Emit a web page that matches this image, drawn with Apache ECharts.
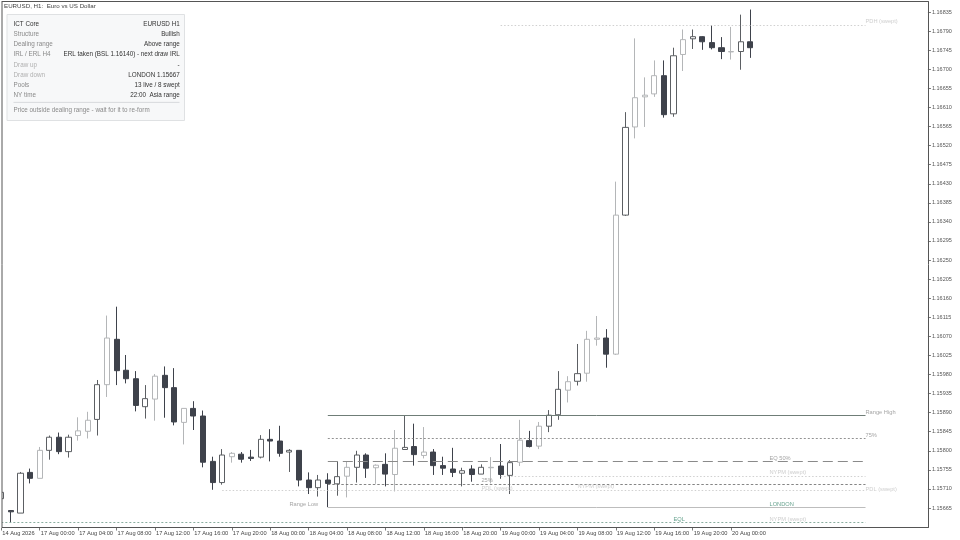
<!DOCTYPE html>
<html>
<head>
<meta charset="utf-8">
<title>EURUSD H1</title>
<script src="https://cdn.jsdelivr.net/npm/echarts@6/dist/echarts.min.js"></script>
<style>
  html, body { margin: 0; padding: 0; background: #fff; }
  #chart { width: 960px; height: 540px; }
</style>
</head>
<body>
<div id="chart"></div>
<script>
// candles, oldest first (prices)
const opens = [
  1.15687, 1.15659, 1.15653, 1.15749, 1.15735, 1.15801, 1.15832, 1.15798, 1.15836, 1.15846,
  1.15874, 1.15956, 1.16063, 1.15990, 1.15970, 1.15904, 1.15922, 1.15978, 1.15949, 1.15867,
  1.15900, 1.15882, 1.15775, 1.15725, 1.15786, 1.15792, 1.15785, 1.15785, 1.15827, 1.15823,
  1.15797, 1.15801, 1.15731, 1.15713, 1.15731, 1.15722, 1.15740, 1.15761, 1.15790, 1.15760,
  1.15768, 1.15744, 1.15803, 1.15810, 1.15789, 1.15797, 1.15765, 1.15757, 1.15747, 1.15757,
  1.15745, 1.15760, 1.15764, 1.15742, 1.15773, 1.15824, 1.15811, 1.15858, 1.15885, 1.15943,
  1.15964, 1.15983, 1.16063, 1.16066, 1.16028, 1.16356, 1.16564, 1.16635, 1.16642, 1.16685,
  1.16595, 1.16735, 1.16772, 1.16777, 1.16763, 1.16751, 1.16741, 1.16742, 1.16765
];
const closes = [
  1.15702, 1.15656, 1.15747, 1.15735, 1.15801, 1.15832, 1.15798, 1.15832, 1.15847, 1.15872,
  1.15956, 1.16066, 1.15989, 1.15970, 1.15907, 1.15923, 1.15976, 1.15949, 1.15868, 1.15900,
  1.15882, 1.15773, 1.15725, 1.15790, 1.15794, 1.15780, 1.15782, 1.15827, 1.15823, 1.15794,
  1.15801, 1.15731, 1.15713, 1.15731, 1.15723, 1.15739, 1.15761, 1.15790, 1.15759, 1.15766,
  1.15745, 1.15806, 1.15808, 1.15791, 1.15797, 1.15765, 1.15759, 1.15749, 1.15753, 1.15744,
  1.15761, 1.15761, 1.15744, 1.15772, 1.15825, 1.15810, 1.15858, 1.15884, 1.15945, 1.15963,
  1.15982, 1.16063, 1.16066, 1.16028, 1.16356, 1.16563, 1.16633, 1.16639, 1.16685, 1.16593,
  1.16732, 1.16770, 1.16777, 1.16765, 1.16751, 1.16742, 1.16742, 1.16765, 1.16751
];
const lows = [
  1.15687, 1.15632, 1.15653, 1.15723, 1.15735, 1.15779, 1.15792, 1.15784, 1.15824, 1.15829,
  1.15836, 1.15927, 1.15955, 1.15959, 1.15893, 1.15876, 1.15871, 1.15878, 1.15860, 1.15815,
  1.15849, 1.15761, 1.15708, 1.15720, 1.15772, 1.15772, 1.15776, 1.15782, 1.15775, 1.15786,
  1.15750, 1.15716, 1.15698, 1.15692, 1.15667, 1.15694, 1.15690, 1.15725, 1.15736, 1.15722,
  1.15716, 1.15704, 1.15803, 1.15765, 1.15782, 1.15743, 1.15743, 1.15738, 1.15716, 1.15727,
  1.15745, 1.15723, 1.15734, 1.15698, 1.15764, 1.15808, 1.15804, 1.15844, 1.15873, 1.15914,
  1.15954, 1.15963, 1.16048, 1.15996, 1.16026, 1.16354, 1.16537, 1.16564, 1.16635, 1.16586,
  1.16588, 1.16696, 1.16748, 1.16746, 1.16747, 1.16724, 1.16723, 1.16699, 1.16727
];
const highs = [
  1.15702, 1.15659, 1.15750, 1.15758, 1.15809, 1.15836, 1.15843, 1.15838, 1.15879, 1.15892,
  1.15967, 1.16119, 1.16140, 1.16026, 1.15988, 1.15955, 1.15981, 1.15999, 1.15995, 1.15900,
  1.15917, 1.15895, 1.15786, 1.15804, 1.15797, 1.15797, 1.15802, 1.15837, 1.15851, 1.15859,
  1.15804, 1.15801, 1.15749, 1.15743, 1.15747, 1.15775, 1.15775, 1.15800, 1.15794, 1.15768,
  1.15794, 1.15849, 1.15884, 1.15864, 1.15856, 1.15804, 1.15786, 1.15807, 1.15760, 1.15766,
  1.15768, 1.15785, 1.15816, 1.15778, 1.15873, 1.15847, 1.15868, 1.15896, 1.15988, 1.15976,
  1.16052, 1.16083, 1.16118, 1.16087, 1.16435, 1.16599, 1.16773, 1.16681, 1.16721, 1.16721,
  1.16751, 1.16794, 1.16794, 1.16778, 1.16804, 1.16776, 1.16800, 1.16829, 1.16841
];
// candles that came out paler in the screenshot
const paleCandles = [4, 8, 9, 11, 16, 19, 24, 36, 39, 41, 44, 51, 54, 56, 59, 61, 62, 64, 66, 67, 68, 71, 76];

// time axis, one slot per hour, some empty slots on the right
const slotCount = 97;
const timeTickSlots = [0, 4, 8, 12, 16, 20, 24, 28, 32, 36, 40, 44, 48, 52, 56, 60, 64, 68, 72, 76];
const timeTickLabels = [
  '14 Aug 2026', '17 Aug 00:00', '17 Aug 04:00', '17 Aug 08:00', '17 Aug 12:00', '17 Aug 16:00', '17 Aug 20:00',
  '18 Aug 00:00', '18 Aug 04:00', '18 Aug 08:00', '18 Aug 12:00', '18 Aug 16:00', '18 Aug 20:00',
  '19 Aug 00:00', '19 Aug 04:00', '19 Aug 08:00', '19 Aug 12:00', '19 Aug 16:00', '19 Aug 20:00', '20 Aug 00:00'
];
const priceTicks = [
  1.15665, 1.15710, 1.15755, 1.15800, 1.15845, 1.15890, 1.15935, 1.15980, 1.16025,
  1.16070, 1.16115, 1.16160, 1.16205, 1.16250, 1.16295, 1.16340, 1.16385, 1.16430,
  1.16475, 1.16520, 1.16565, 1.16610, 1.16655, 1.16700, 1.16745, 1.16790, 1.16835
];

// horizontal levels
const levelKinds  = ['rangeHigh', 'upper', 'eq', 'swept', 'lower', 'swept', 'rangeLow', 'eql', 'swept'];
const levelPrices = [1.15884, 1.15830, 1.15775, 1.15740, 1.15721, 1.15707, 1.15667, 1.15631, 1.16805];
const levelFrom   = [34, 34, 34, 52, 34, 23, 34, 0, 52];
const levelTo     = [90, 90, 90, 90, 90, 90, 90, 90, 90];

// text tags on the levels
const tagTexts  = ['Range High', '75%', 'EQ 50%', 'NYPM (swept)', 'PDL (swept)', 'LONDON', 'EQL', 'NYPM (swept)', 'PDH (swept)', 'Range Low', '25%', 'PDL (swept)', 'NYPM (swept)'];
const tagKinds  = ['dark', 'dark', 'dark', 'pale', 'pale', 'green', 'green', 'pale', 'pale', 'dark', 'dark', 'pale', 'pale'];
const tagSlots  = [90, 90, 80, 80, 90, 80, 70, 80, 90, 30, 50, 50, 60];
const tagPrices = [1.15891, 1.15837, 1.15783, 1.15749, 1.15709, 1.15673, 1.15638, 1.15639, 1.16813, 1.15673, 1.15729, 1.15712, 1.15717];

// info panel
const panelLabels = ['ICT Core', 'Structure', 'Dealing range', 'IRL / ERL H4', 'Draw up', 'Draw down', 'Pools', 'NY time'];
const panelValues = ['EURUSD H1', 'Bullish', 'Above range', 'ERL taken (BSL 1.16140) - next draw IRL', '-', 'LONDON 1.15667', '13 live / 8 swept', '22:00  Asia range'];
const panelFooter = 'Price outside dealing range - wait for it to re-form';

const FONT = '"Liberation Sans", Arial, sans-serif';
const BULL_EDGE = '#5c5f63';
const PALE_EDGE = '#b4b6b8';
const BEAR = '#3e424b';

const levelStyles = {
  rangeHigh: { color: '#6f7d77', width: 1, type: 'solid' },
  upper:     { color: '#777777', width: 0.8, type: [2, 2] },
  eq:        { color: '#8a8a8a', width: 1, type: [10, 5] },
  lower:     { color: '#666666', width: 0.8, type: [2.5, 2] },
  swept:     { color: '#c4c4c4', width: 0.8, type: [1.5, 2] },
  rangeLow:  { color: '#bdbdbd', width: 1, type: 'solid' },
  eql:       { color: '#6d9a88', width: 0.8, type: [2, 2] }
};
const tagColors = { dark: '#8c8c8c', pale: '#c2c2c2', green: '#3f8a70' };

const categories = new Array(slotCount).fill('');
timeTickSlots.forEach((s, i) => { categories[s] = timeTickLabels[i]; });
const hasTick = (i, v) => v !== '';

const candles = opens.map((o, i) => {
  const item = { value: [o, closes[i], lows[i], highs[i]] };
  if (paleCandles.includes(i)) item.itemStyle = { borderColor: PALE_EDGE };
  return item;
});

const levelLines = levelPrices.map((p, i) => ([
  { coord: [levelFrom[i], p], lineStyle: levelStyles[levelKinds[i]] },
  { coord: [levelTo[i], p] }
]));

const tags = tagTexts.map((t, i) => ({
  value: [tagSlots[i], tagPrices[i]],
  label: { formatter: t, color: tagColors[tagKinds[i]] }
}));

// panel and frame are plain drawing, no data in them
const panelX = 7, panelY = 14.5, rowH = 10.22;
const panelGraphics = [
  { type: 'rect', z: 50, shape: { x: panelX, y: panelY, width: 177.5, height: 106 }, style: { fill: '#f7f8f9', stroke: '#dfe1e3', lineWidth: 1 } },
  { type: 'line', z: 51, shape: { x1: 13.5, y1: 102.4, x2: 179.5, y2: 102.4 }, style: { stroke: '#cfd2d5', lineWidth: 0.8 } },
  { type: 'text', z: 51, x: 13.5, y: 110.4, style: { text: panelFooter, fill: '#8a8a8a', font: '6.3px ' + FONT, textVerticalAlign: 'middle' } }
];
panelLabels.forEach((t, i) => {
  const y = 24 + i * rowH;
  const labelColor = i === 0 ? '#333333' : (i === 4 || i === 5 ? '#b0b0b0' : '#8a8a8a');
  panelGraphics.push({ type: 'text', z: 51, x: 13.5, y: y, style: { text: t, fill: labelColor, font: '6.3px ' + FONT, textVerticalAlign: 'middle' } });
  panelGraphics.push({ type: 'text', z: 51, x: 179.7, y: y, style: { text: panelValues[i], fill: '#333333', font: '6.3px ' + FONT, textAlign: 'right', textVerticalAlign: 'middle' } });
});

const chart = echarts.init(document.getElementById('chart'), null, { renderer: 'canvas' });
chart.setOption({
  animation: false,
  backgroundColor: '#ffffff',
  textStyle: { fontFamily: FONT },
  // bars hang past the left frame, so no shrinking of the grid to fit
  grid: { left: -3.47, width: 931.4, top: 1.5, bottom: 12.5, containLabel: false, outerBoundsMode: 'none' },
  xAxis: {
    type: 'category',
    data: categories,
    boundaryGap: true,
    axisLine: { show: true, onZero: false, lineStyle: { color: '#555555', width: 1 } },
    axisTick: { show: true, alignWithLabel: true, interval: hasTick, length: 3, lineStyle: { color: '#555555', width: 0.8 } },
    axisLabel: { show: true, interval: hasTick, align: 'left', margin: 3, fontSize: 5.7, color: '#444444', hideOverlap: false, padding: [0, 0, 0, 1] },
    splitLine: { show: false }
  },
  yAxis: {
    type: 'value',
    position: 'right',
    min: 1.15619,
    max: 1.1686,
    axisLine: { show: true, lineStyle: { color: '#555555', width: 1 } },
    axisTick: { show: true, length: 3, customValues: priceTicks, lineStyle: { color: '#555555', width: 0.8 } },
    axisLabel: { show: true, customValues: priceTicks, margin: 4, fontSize: 5.5, color: '#555555', formatter: v => v.toFixed(5), hideOverlap: false },
    splitLine: { show: false }
  },
  series: [
    {
      type: 'candlestick',
      barWidth: 5.6,
      data: candles,
      itemStyle: { color: '#ffffff', color0: BEAR, borderColor: BULL_EDGE, borderColor0: BEAR, borderWidth: 1 },
      markLine: { silent: true, symbol: 'none', label: { show: false }, data: levelLines }
    },
    {
      type: 'scatter',
      symbolSize: 0,
      silent: true,
      data: tags,
      z: 10,
      label: { show: true, position: 'right', distance: 0, fontSize: 5.7 }
    }
  ],
  graphic: [
    { type: 'rect', z: 40, shape: { x: 0, y: 0, width: 2, height: 528 }, style: { fill: '#ffffff' } },
    { type: 'line', z: 41, shape: { x1: 2, y1: 1, x2: 2, y2: 528 }, style: { stroke: '#555555', lineWidth: 1 } },
    { type: 'line', z: 41, shape: { x1: 2, y1: 1.5, x2: 928, y2: 1.5 }, style: { stroke: '#555555', lineWidth: 1 } },
    { type: 'text', z: 41, x: 4, y: 6.2, style: { text: 'EURUSD, H1:  Euro vs US Dollar', fill: '#444444', font: '6.2px ' + FONT, textVerticalAlign: 'middle' } }
  ].concat(panelGraphics)
});
</script>
</body>
</html>
